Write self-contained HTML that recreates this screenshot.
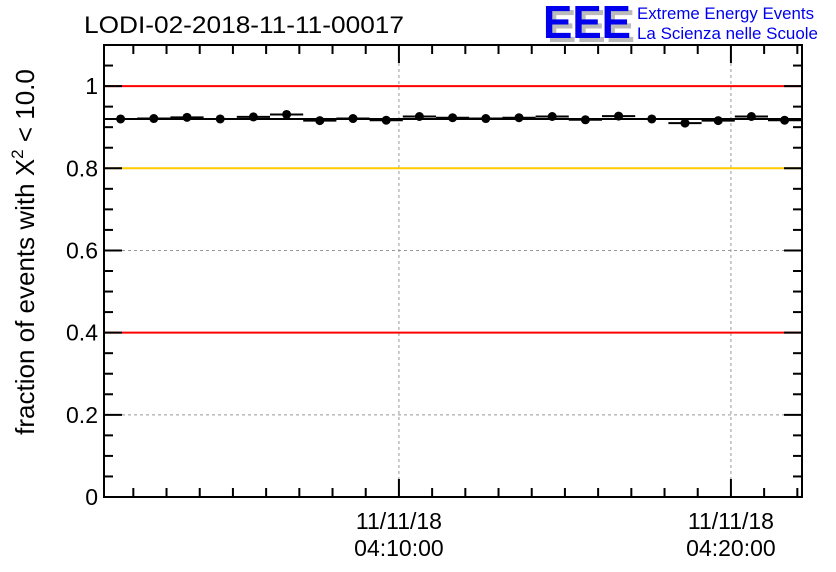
<!DOCTYPE html>
<html><head><meta charset="utf-8"><style>
body{margin:0;background:#fff;}
svg{display:block;font-family:"Liberation Sans",sans-serif;}
</style></head><body>
<svg id="c" width="836" height="572">
<rect x="0" y="0" width="836" height="572" fill="#fff"/>
<text x="84" y="33" font-size="24" fill="#000" textLength="320" lengthAdjust="spacingAndGlyphs">LODI-02-2018-11-11-00017</text>
<g>
<text x="547" y="42" font-size="46" font-weight="bold" fill="#bbb" textLength="88" lengthAdjust="spacingAndGlyphs">EEE</text>
<text x="543" y="38" font-size="46" font-weight="bold" fill="#0000ee" textLength="88" lengthAdjust="spacingAndGlyphs">EEE</text>
<text x="637" y="19" font-size="16.5" fill="#0000ee" textLength="177" lengthAdjust="spacingAndGlyphs">Extreme Energy Events</text>
<text x="637" y="39" font-size="16.5" fill="#0000ee" textLength="181" lengthAdjust="spacingAndGlyphs">La Scienza nelle Scuole</text>
</g>
<text transform="translate(34,252) rotate(-90)" text-anchor="middle" font-size="26" fill="#000">fraction of events with X<tspan font-size="17" dy="-11">2</tspan><tspan dy="11"> &lt; 10.0</tspan></text>
<g id="grid"></g><g id="ref"></g><g id="axes"></g><g id="marks"></g>
</svg>
<script>
const values=[0.920,0.921,0.924,0.920,0.925,0.931,0.916,0.921,0.917,0.926,0.923,0.921,0.923,0.926,0.918,0.927,0.920,0.910,0.916,0.926,0.917];
const meanValue=[0.920];
const refLines=[1.0,0.8,0.4];
const refColors=["#ff0000","#ffcc00","#ff0000"];
const yTicks=[0,0.2,0.4,0.6,0.8,1];
const yTickLabels=["0","0.2","0.4","0.6","0.8","1"];
const xMajorTimes=[0,600];
const xMajorLabels=[["11/11/18","04:10:00"],["11/11/18","04:20:00"]];
const NS="http://www.w3.org/2000/svg";
const X0=104,X1=802,Y0=497,Y1=45;
const tMin=-533,tMax=-533+(X1-X0)/(332/600);
const xs=t=>X0+(t-tMin)/(tMax-tMin)*(X1-X0);
const ys=v=>Y0-v/1.1*(Y0-Y1);
function mk(tag,a,p){const e=document.createElementNS(NS,tag);for(const k in a)e.setAttribute(k,a[k]);document.getElementById(p).appendChild(e);return e;}
[0.2,0.6].forEach(v=>{const e=mk('line',{x1:X0,x2:X1,y1:ys(v),y2:ys(v),stroke:'#999','stroke-dasharray':'3,3'},'grid');

});
xMajorTimes.forEach(t=>{const e=mk('line',{x1:xs(t),x2:xs(t),y1:Y1,y2:Y0,stroke:'#999','stroke-dasharray':'3,3'},'grid');

});
refLines.forEach((v,i)=>{const e=mk('line',{x1:X0,x2:X1,y1:ys(v),y2:ys(v),stroke:refColors[i],'stroke-width':2},'ref');

});
const f=mk('rect',{x:X0,y:Y1,width:X1-X0,height:Y0-Y1,fill:'none',stroke:'#000','stroke-width':2},'axes');


for(let i=0;i<=22;i++){const v=i*0.05;const L=(i%4==0)?18:9;
mk('line',{x1:X0,x2:X0+L,y1:ys(v),y2:ys(v),stroke:'#000','stroke-width':2},'axes');
mk('line',{x1:X1-L,x2:X1,y1:ys(v),y2:ys(v),stroke:'#000','stroke-width':2},'axes');}
yTicks.forEach((v,i)=>{const e=mk('text',{x:X0-6,y:ys(v)+8,'text-anchor':'end','font-size':23},'axes');e.textContent=yTickLabels[i];

});
for(let t=-480;t<=tMax;t+=60){const L=(t%600==0)?18:9;
mk('line',{x1:xs(t),x2:xs(t),y1:Y0,y2:Y0-L,stroke:'#000','stroke-width':2},'axes');
mk('line',{x1:xs(t),x2:xs(t),y1:Y1,y2:Y1+L,stroke:'#000','stroke-width':2},'axes');}
xMajorTimes.forEach((t,i)=>{[0,1].forEach(j=>{const e=mk('text',{x:xs(t),y:529+j*27,'text-anchor':'middle','font-size':23},'axes');e.textContent=xMajorLabels[i][j];

});});
const m=mk('line',{x1:X0,x2:X1,y1:ys(meanValue[0]),y2:ys(meanValue[0]),stroke:'#000','stroke-width':2},'marks');


const bw=60;
values.forEach((v,i)=>{const t0=tMin+i*bw,t1=t0+bw;
const l=mk('line',{x1:xs(t0),x2:xs(t1),y1:ys(v),y2:ys(v),stroke:'#000','stroke-width':2},'marks');


const c=mk('circle',{cx:(xs(t0)+xs(t1))/2,cy:ys(v),r:4.5,fill:'#000'},'marks');

});
</script>
</body></html>
